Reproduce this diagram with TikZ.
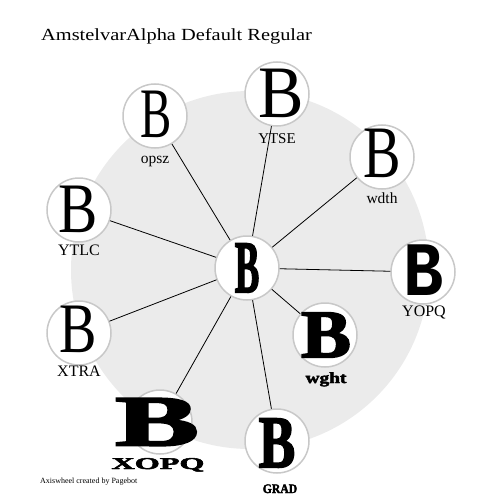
\documentclass[tikz,border=0pt]{standalone}
\usepackage{fontspec}
\setmainfont{Liberation Serif}
\newfontfamily\slabfont{Liberation Mono}
\newfontfamily\heavyfont[BoldFeatures={FakeBold=2.5}]{Liberation Serif}
\definecolor{wheelgrey}{HTML}{EBEBEB}
\definecolor{ringgrey}{HTML}{C8C8C8}
\newcommand{\glyphB}[3]{\fontsize{#1}{#1}\selectfont\scalebox{#2}[1]{#3}}
\begin{document}
\begin{tikzpicture}[x=1pt,y=-1pt,
  wheel/.style={circle, draw=ringgrey, line width=1.5pt, fill=white, minimum size=64pt, inner sep=0pt},
  glyph/.style={inner sep=0pt},
  spoke/.style={black, line width=0.8pt},
  axislabel/.style={anchor=base, inner sep=0pt, font=\fontsize{16}{16}\selectfont},
  lowlabel/.style={anchor=base, inner sep=0pt, font=\fontsize{15.5}{15.5}\selectfont}]
\useasboundingbox (0,0) rectangle (500,500);
\fill[wheelgrey] (250,270) circle (179);
% circles
\node[wheel] (hub) at (247,268) {};
\node[wheel] (opsz) at (155,116) {};
\node[wheel] (ytse) at (277,94) {};
\node[wheel] (wdth) at (382,157) {};
\node[wheel] (yopq) at (423,272) {};
\node[wheel] (ytlc) at (79,210) {};
\node[wheel] (xtra) at (79,333) {};
\node[wheel] (wght) at (325,335) {};
\node[wheel] (grad) at (277,441) {};
\node[wheel] (xopq) at (160,422) {};
% spokes
\foreach \n in {opsz,ytse,wdth,yopq,ytlc,xtra,wght,grad,xopq}
  \draw[spoke] (hub) -- (\n);
% glyphs
\node[glyph] (ghub) at (247,268) {\heavyfont\bfseries\glyphB{74}{0.5}{B}};
\node[glyph] (gopsz) at (156,114) {\glyphB{71}{0.66}{B}};
\node[glyph] (gytse) at (281,93) {\glyphB{74}{0.92}{B}};
\node[glyph] (gwdth) at (382,153) {\glyphB{74}{0.76}{B}};
\node[glyph] (gyopq) at (424,270) {\slabfont\bfseries\glyphB{77}{0.87}{B}};
\node[glyph] (gytlc) at (78,209) {\glyphB{71}{0.83}{B}};
\node[glyph] (gxtra) at (78,329) {\glyphB{71}{0.79}{B}};
\node[glyph] (gwght) at (326,335) {\heavyfont\bfseries\glyphB{68}{1.1}{B}};
\node[glyph] (ggrad) at (277,443) {\heavyfont\bfseries\glyphB{74}{0.74}{B}};
\node[glyph] (gxopq) at (157,422) {\heavyfont\bfseries\glyphB{72}{1.75}{B}};
% labels
\node[lowlabel] (lopsz) at (155,163) {opsz};
\node[axislabel, font=\fontsize{15}{15}\selectfont] (lytse) at (277,143) {YTSE};
\node[lowlabel] (lwdth) at (382,203) {wdth};
\node[axislabel] (lyopq) at (424,316) {YOPQ};
\node[axislabel] (lytlc) at (79,255) {YTLC};
\node[axislabel] (lxtra) at (79,376) {XTRA};
\node[lowlabel] (lwght) at (326,383) {\heavyfont\bfseries\scalebox{1.25}[1]{wght}};
\node[anchor=base, inner sep=0pt, font=\fontsize{13}{13}\selectfont\heavyfont\bfseries] (lgrad) at (280,493) {\scalebox{0.9}[1]{GRAD}};
\node[anchor=base, inner sep=0pt, font=\fontsize{16.5}{16.5}\selectfont\heavyfont\bfseries] (lxopq) at (158,469) {\scalebox{1.95}[1]{XOPQ}};
% title and footer
\node[anchor=base west, inner sep=0pt, font=\fontsize{17}{17}\selectfont] (title) at (41,41) {\scalebox{1.2}[1]{AmstelvarAlpha Default Regular}};
\node[anchor=base west, inner sep=0pt, font=\fontsize{8}{8}\selectfont] (footer) at (40,483) {Axiswheel created by Pagebot};
\end{tikzpicture}
\end{document}
